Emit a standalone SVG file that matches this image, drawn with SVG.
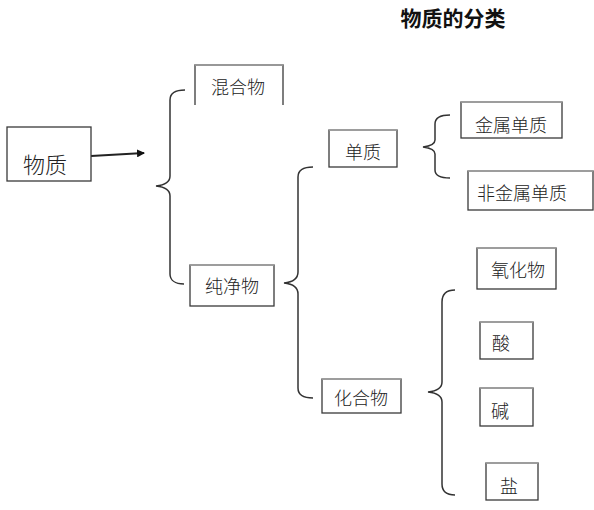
<svg xmlns="http://www.w3.org/2000/svg" width="594" height="510" viewBox="0 0 594 510">
<style>
.box{fill:#fff;stroke:#3a3a3a;stroke-width:1.3}
.top{stroke:#a8a8a8;stroke-width:1.3}
.t{font-family:"Noto Sans CJK SC","Noto Sans",sans-serif;font-size:18px;font-weight:300;fill:#222;text-anchor:middle;dominant-baseline:central}
.brace{fill:none;stroke:#333;stroke-width:1.5}
.arrow{fill:none;stroke:#222;stroke-width:2}
</style>
<defs>
<marker id="ah" markerWidth="8" markerHeight="8" refX="7" refY="4" orient="auto" markerUnits="userSpaceOnUse" viewBox="0 0 8 8">
<path d="M0,0 L8,4 L0,8 Z" fill="#111"/>
</marker>
</defs>
<text x="453" y="19" style="font-family:'Liberation Serif','Noto Sans CJK SC',serif;font-size:21px;font-weight:bold;text-anchor:middle;dominant-baseline:central;fill:#111">物质的分类</text>
<g id="connectors">
<path class="arrow" d="M91,156 L144,153" marker-end="url(#ah)"/>
<path class="brace" d="M185,90 C175,90 170,93 170,100 L170,176 C170,182 166,185 156,186 C166,187 170,190 170,196 L170,274 C170,280 175,284 184,284"/>
<path class="brace" d="M313,167 C303,167 298,170 298,177 L298,272 C298,278 294,282 284,283 C294,284 298,288 298,294 L298,388 C298,394 303,398 313,398"/>
<path class="brace" d="M450,115 C440,115 435,118 435,124 L435,140 C435,144 431,146 423,147 C431,148 435,150 435,154 L435,170 C435,175 440,178 450,178"/>
<path class="brace" d="M455,290 C446,290 442,294 442,302 L442,382 C442,388 438,391 428,392 C438,393 442,396 442,402 L442,484 C442,491 446,495 455,495"/>
</g>
<g id="n-wuzhi">
<rect class="box" x="7" y="127" width="84" height="54"/>
<text class="t" x="45" y="163" style="font-size:22px">物质</text>
</g>
<g id="n-hunhewu">
<path class="box" d="M195,105 L195,65 L283,65 L283,105"/>
<line class="top" x1="195" y1="65" x2="283" y2="65"/>
<text class="t" x="238" y="86">混合物</text>
</g>
<g id="n-chunjingwu">
<rect class="box" x="190" y="265" width="84" height="41"/>
<line class="top" x1="190" y1="265" x2="274" y2="265"/>
<text class="t" x="232" y="285">纯净物</text>
</g>
<g id="n-danzhi">
<rect class="box" x="329" y="130" width="68" height="37"/>
<line class="top" x1="329" y1="130" x2="397" y2="130"/>
<text class="t" x="363" y="151">单质</text>
</g>
<g id="n-huahewu">
<rect class="box" x="322" y="379" width="79" height="34"/>
<line class="top" x1="322" y1="379" x2="401" y2="379"/>
<text class="t" x="361" y="397">化合物</text>
</g>
<g id="n-jinshu">
<rect class="box" x="461" y="102" width="101" height="36"/>
<line class="top" x1="461" y1="102" x2="562" y2="102"/>
<text class="t" x="511" y="124">金属单质</text>
</g>
<g id="n-feijinshu">
<rect class="box" x="468" y="171" width="125" height="39"/>
<line class="top" x1="468" y1="171" x2="593" y2="171"/>
<text class="t" x="522" y="192">非金属单质</text>
</g>
<g id="n-yanghuawu">
<rect class="box" x="477" y="248" width="79" height="41"/>
<line class="top" x1="477" y1="248" x2="556" y2="248"/>
<text class="t" x="518" y="269">氧化物</text>
</g>
<g id="n-suan">
<rect class="box" x="480" y="322" width="53" height="37"/>
<line class="top" x1="480" y1="322" x2="533" y2="322"/>
<text class="t" x="501" y="342">酸</text>
</g>
<g id="n-jian">
<rect class="box" x="480" y="388" width="53" height="38"/>
<line class="top" x1="480" y1="388" x2="533" y2="388"/>
<text class="t" x="500" y="410">碱</text>
</g>
<g id="n-yan">
<rect class="box" x="486" y="463" width="52" height="37"/>
<line class="top" x1="486" y1="463" x2="538" y2="463"/>
<text class="t" x="509" y="485">盐</text>
</g>
</svg>
